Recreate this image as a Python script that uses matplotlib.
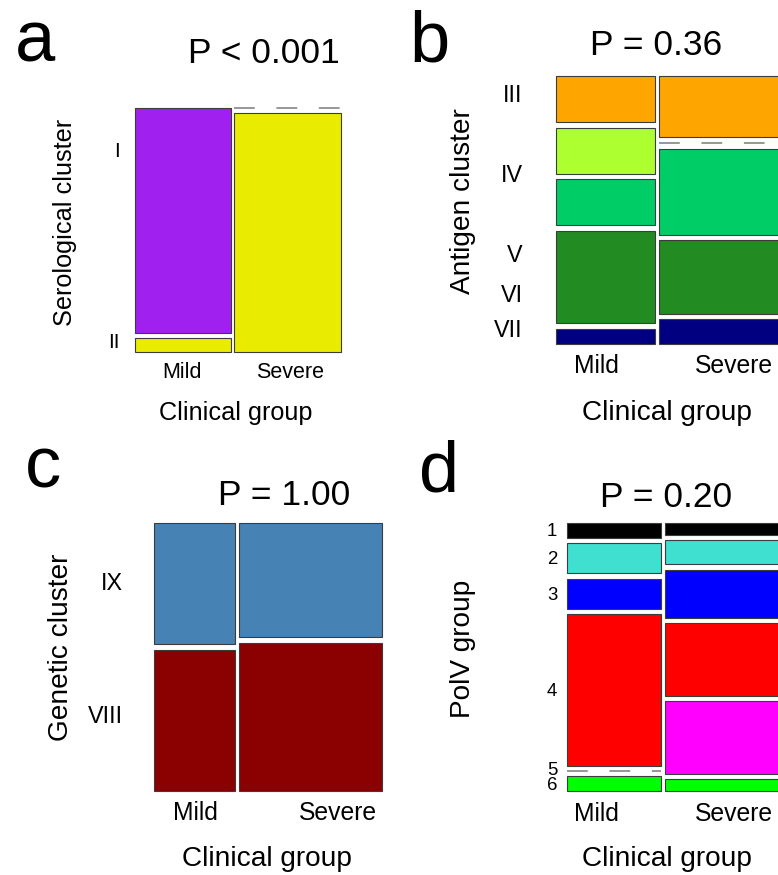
"""Mosaic plots: clinical group vs serological / antigen / genetic / PolV groups."""

import matplotlib

matplotlib.use("Agg")

import matplotlib.pyplot as plt
import numpy as np

plt.rcParams["font.family"] = ["Liberation Sans", "DejaVu Sans"]

# --- data -------------------------------------------------------------------
CLINICAL = ["Mild", "Severe"]
XLABEL = "Clinical group"

SERO_LEVELS = ["I", "II"]
SERO_MILD = [16, 1]
SERO_SEVERE = [0, 19]

ANTIGEN_LEVELS = ["III", "IV", "V", "VI", "VII"]
ANTIGEN_MILD = [3, 3, 3, 6, 1]
ANTIGEN_SEVERE = [5, 0, 7, 6, 2]

GENETIC_LEVELS = ["IX", "VIII"]
GENETIC_MILD = [6, 7]
GENETIC_SEVERE = [10, 13]

POLV_LEVELS = ["1", "2", "3", "4", "5", "6"]
POLV_MILD = [1, 2, 2, 10, 0, 1]
POLV_SEVERE = [1, 2, 4, 6, 6, 1]

P_VALUES = ["P < 0.001", "P = 0.36", "P = 1.00", "P = 0.20"]

# --- style / layout (pixels of a 778 x 875 canvas) --------------------------
W, H = 778, 875
EDGE = "#3c3c3c"
ZERO = "#8f8f8f"

# panel a was exported at a slightly smaller scale than b, c, d
PANELS = [
    dict(letter="a", counts=(SERO_MILD, SERO_SEVERE), levels=SERO_LEVELS,
         ylabel="Serological cluster", colors=["#A020F0", "#EAEC00"],
         rect=(135, 107.7, 341, 351.7), col_gap=3.7, row_gap=5.0,
         letter_xy=(15, 62), title_xy=(263.5, 62.7),
         ylabel_xy=(65, 222), ytick_x=120, ytick_y=[151.7, 343],
         ytick_size=15, xtick_size=15.5, label_size=18.2,
         xticks_xy=[(182, 372), (290, 372)], xlabel_xy=(236, 413)),
    dict(letter="b", counts=(ANTIGEN_MILD, ANTIGEN_SEVERE), levels=ANTIGEN_LEVELS,
         ylabel="Antigen cluster",
         colors=["#FFA500", "#ADFF2F", "#00CD66", "#228B22", "#000080"],
         rect=(555.7, 76, 782.8, 344), col_gap=4.3, row_gap=5.7,
         letter_xy=(409, 61.7), title_xy=(656.5, 55),
         ylabel_xy=(463, 201), ytick_x=522.7, ytick_y=[95.3, 175, 256, 295, 330],
         ytick_size=16.8, xtick_size=17.8, label_size=20.2,
         xticks_xy=[(596.5, 366), (734, 366)], xlabel_xy=(667, 413)),
    dict(letter="c", counts=(GENETIC_MILD, GENETIC_SEVERE), levels=GENETIC_LEVELS,
         ylabel="Genetic cluster", colors=["#4682B4", "#8B0000"],
         rect=(154.3, 523, 382, 791), col_gap=4.4, row_gap=5.4,
         letter_xy=(25, 487), title_xy=(284, 505),
         ylabel_xy=(61, 647), ytick_x=122.7, ytick_y=[583, 716.5],
         ytick_size=16.8, xtick_size=17.8, label_size=20.2,
         xticks_xy=[(195.5, 813), (337.5, 813)], xlabel_xy=(266.7, 858.7)),
    dict(letter="d", counts=(POLV_MILD, POLV_SEVERE), levels=POLV_LEVELS,
         ylabel="PolV group",
         colors=["#000000", "#40E0D0", "#0000FF", "#FF0000", "#FF00FF", "#00FF00"],
         rect=(566.7, 522.7, 783.8, 791.3), col_gap=4.0, row_gap=5.3,
         letter_xy=(419, 492), title_xy=(666.5, 507),
         ylabel_xy=(463, 649), ytick_x=557.3,
         ytick_y=[531, 559.7, 595.3, 692, 770.3, 785.3],
         ytick_size=13.4, xtick_size=17.8, label_size=20.2,
         xticks_xy=[(596.5, 813.7), (734, 813.7)], xlabel_xy=(667, 858.7)),
]


def fx(x):
    return x / W


def fy(y):
    return 1 - y / H


def draw_mosaic(fig, rect, columns, colors, col_gap, row_gap):
    """Mosaic à la R: column widths ~ column totals, tile heights ~ counts,
    zero cells drawn as a dashed grey line."""
    x0, y0, x1, y1 = rect
    width, height = x1 - x0, y1 - y0
    ax = fig.add_axes([fx(x0), fy(y1), width / W, height / H])
    ax.set_xlim(0, width)
    ax.set_ylim(height, 0)
    ax.axis("off")

    cols = [np.asarray(c, dtype=float) for c in columns]
    totals = np.array([c.sum() for c in cols])
    avail_w = width - col_gap * (len(cols) - 1)
    left = 0.0
    for counts, total in zip(cols, totals):
        w = avail_w * total / totals.sum()
        avail_h = height - row_gap * (len(counts) - 1)
        top = 0.0
        for n, color in zip(counts, colors):
            h = avail_h * n / total
            if n == 0:
                ax.hlines(top, left, left + w, colors=ZERO, linewidth=1.3,
                          linestyles=(0, (11.5, 12)), clip_on=False)
            else:
                ax.bar(left, h, width=w, bottom=top, align="edge", color=color,
                       edgecolor=EDGE, linewidth=0.8, clip_on=False)
            top += h + row_gap
        left += w + col_gap
    return ax


def main() -> None:
    fig = plt.figure(figsize=(W / 100, H / 100), dpi=100)
    fig.patch.set_facecolor("white")

    for p, title in zip(PANELS, P_VALUES):
        draw_mosaic(fig, p["rect"], p["counts"], p["colors"], p["col_gap"], p["row_gap"])

        lx, ly = p["letter_xy"]
        fig.text(fx(lx), fy(ly), p["letter"], fontsize=52, ha="left", va="baseline")
        tx, ty = p["title_xy"]
        fig.text(fx(tx), fy(ty), title, fontsize=25.5, ha="center", va="baseline")

        yx, yy = p["ylabel_xy"]
        fig.text(fx(yx), fy(yy), p["ylabel"], fontsize=p["label_size"], rotation=90,
                 ha="center", va="center")
        for lab, y in zip(p["levels"], p["ytick_y"]):
            fig.text(fx(p["ytick_x"]), fy(y), lab, fontsize=p["ytick_size"],
                     ha="right", va="center")

        for lab, (x, y) in zip(CLINICAL, p["xticks_xy"]):
            fig.text(fx(x), fy(y), lab, fontsize=p["xtick_size"], ha="center", va="center")
        cx, cy = p["xlabel_xy"]
        fig.text(fx(cx), fy(cy), XLABEL, fontsize=p["label_size"], ha="center", va="center")

    fig.savefig("out.png", dpi=100, facecolor="white")
    plt.close(fig)


if __name__ == "__main__":
    main()
